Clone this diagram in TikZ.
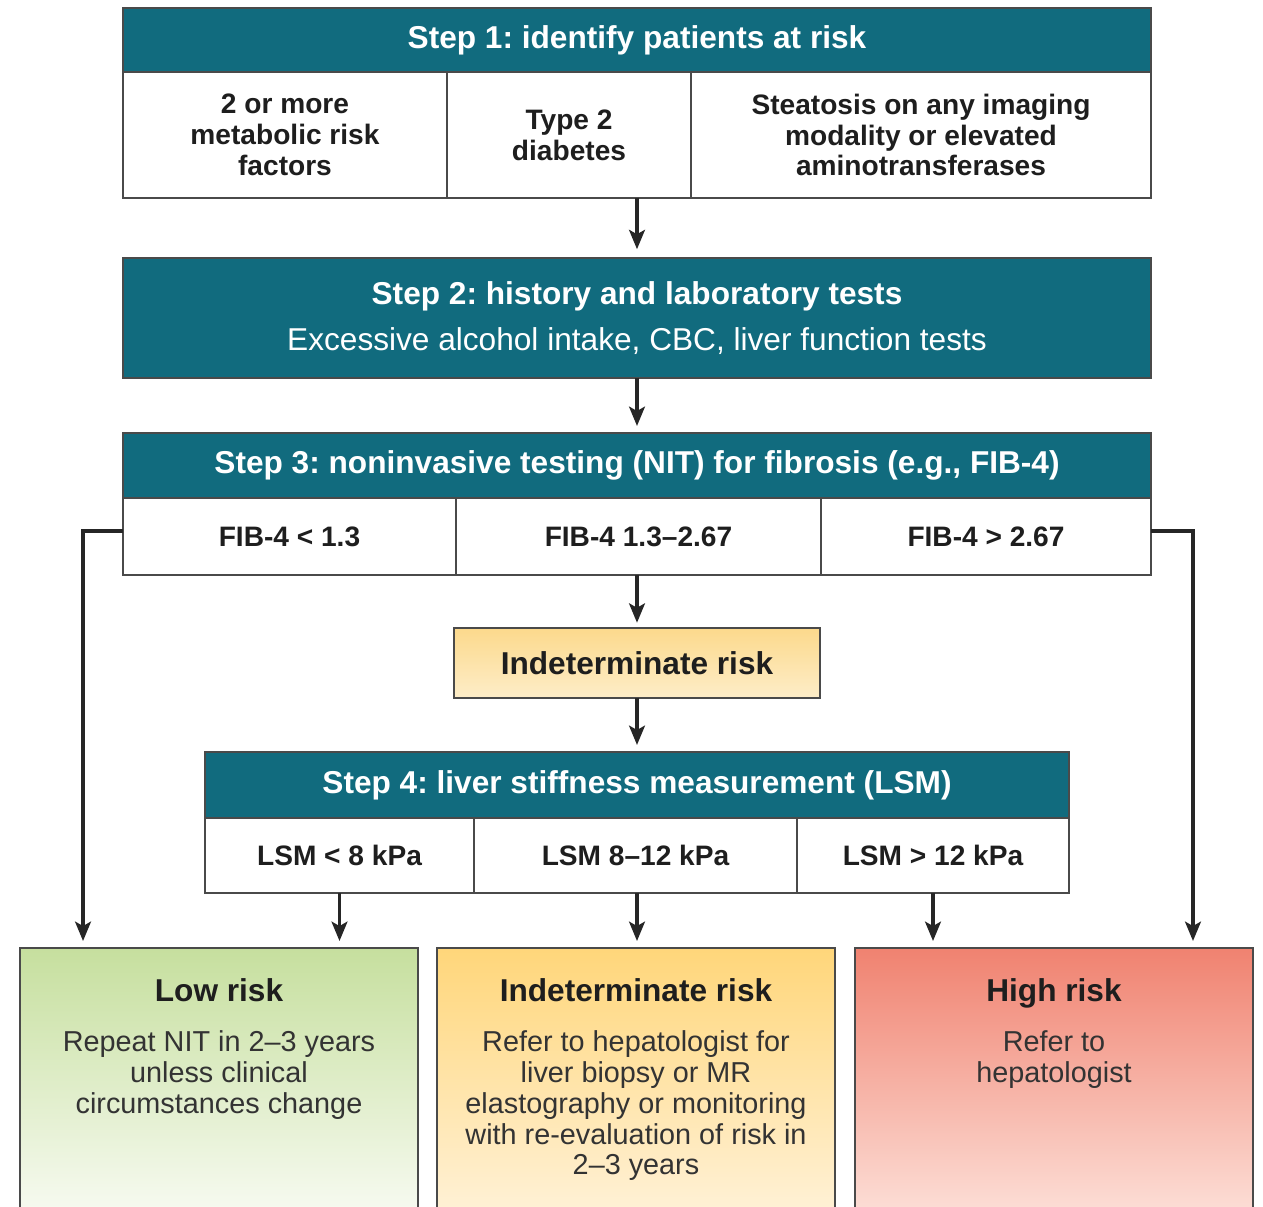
\documentclass[tikz,border=0pt]{standalone}
\usepackage{fontspec}
\setmainfont{Liberation Sans}
\usetikzlibrary{arrows.meta, positioning, calc}
\frenchspacing
\definecolor{stepteal}{HTML}{116B7E}
\definecolor{edgegray}{HTML}{4A4A4A}
\definecolor{darktext}{HTML}{1E1E1E}
\definecolor{bodytext}{HTML}{333333}
\definecolor{lowtop}{HTML}{C6DF9E}
\definecolor{lowbot}{HTML}{FAFCF6}
\definecolor{indtop}{HTML}{FFD67A}
\definecolor{indbot}{HTML}{FFF3DC}
\definecolor{hightop}{HTML}{F08270}
\definecolor{highbot}{HTML}{FDE4DD}
\definecolor{midtop}{HTML}{FCD98C}
\definecolor{midbot}{HTML}{FDEDC8}

\begin{document}
\begin{tikzpicture}[x=0.02cm, y=-0.02cm,
    head/.style={fill=stepteal, draw=edgegray, line width=1.1pt, text=white, font=\fontsize{18}{21}\selectfont\bfseries, inner sep=0pt, outer sep=0pt},
    cell/.style={fill=white, draw=edgegray, line width=1.1pt, text=darktext, font=\fontsize{16}{17.6}\selectfont\bfseries, align=center, inner sep=0pt, outer sep=0pt},
    outcome/.style={draw=edgegray, line width=1.1pt, inner sep=0pt, outer sep=0pt, minimum width=7.96cm, minimum height=5.64cm},
    ttl/.style={text=darktext, font=\fontsize{18}{21}\selectfont\bfseries, anchor=base},
    body/.style={text=bodytext, font=\fontsize{16.4}{17.6}\selectfont, align=center, inner sep=0pt, anchor=north},
    arr/.style={-{Stealth[length=11pt, width=9pt, inset=2.5pt]}, line width=2pt, black!85}
]
    \useasboundingbox (0,0) rectangle (1263,1206);

    \node[head, minimum width=20.56cm, minimum height=1.28cm] (s1) at (637,40) {Step 1: identify patients at risk};
    \node[cell, minimum width=6.48cm, minimum height=2.52cm] (r1) at (285,135) {2 or more\\metabolic risk\\factors};
    \node[cell, minimum width=4.88cm, minimum height=2.52cm] (r2) at (569,135) {Type 2\\diabetes};
    \node[cell, minimum width=9.2cm, minimum height=2.52cm] (r3) at (921,135) {Steatosis on any imaging\\modality or elevated\\aminotransferases};

    \node[head, minimum width=20.56cm, minimum height=2.4cm, align=center] (s2) at (637,318) {Step 2: history and laboratory tests\\[5pt]{\mdseries Excessive alcohol intake, CBC, liver function tests}};

    \node[head, minimum width=20.56cm, minimum height=1.3cm] (s3) at (637,465.5) {Step 3: noninvasive testing (NIT) for fibrosis (e.g., FIB-4)};
    \node[cell, minimum width=6.66cm, minimum height=1.54cm] (f1) at (289.5,536.5) {FIB-4 < 1.3};
    \node[cell, minimum width=7.3cm, minimum height=1.54cm] (f2) at (638.5,536.5) {FIB-4 1.3--2.67};
    \node[cell, minimum width=6.6cm, minimum height=1.54cm] (f3) at (986,536.5) {FIB-4 > 2.67};

    \node[cell, top color=midtop, bottom color=midbot, font=\fontsize{18}{21}\selectfont\bfseries, minimum width=7.32cm, minimum height=1.4cm] (mid) at (637,663) {Indeterminate risk};

    \node[head, minimum width=17.28cm, minimum height=1.32cm] (s4) at (637,785) {Step 4: liver stiffness measurement (LSM)};
    \node[cell, minimum width=5.38cm, minimum height=1.5cm] (l1) at (339.5,855.5) {LSM < 8 kPa};
    \node[cell, minimum width=6.46cm, minimum height=1.5cm] (l2) at (635.5,855.5) {LSM 8--12 kPa};
    \node[cell, minimum width=5.44cm, minimum height=1.5cm] (l3) at (933,855.5) {LSM > 12 kPa};

    \node[outcome, top color=lowtop, bottom color=lowbot] (low) at (219,1089) {};
    \node[outcome, top color=indtop, bottom color=indbot] (ind) at (636,1089) {};
    \node[outcome, top color=hightop, bottom color=highbot] (high) at (1054,1089) {};

    \node[ttl] (lowT) at (219,1001) {Low risk};
    \node[ttl] (indT) at (636,1001) {Indeterminate risk};
    \node[ttl] (highT) at (1054,1001) {High risk};
    \node[body] (lowB) at (219,1030) {Repeat NIT in 2--3 years\\unless clinical\\circumstances change};
    \node[body] (indB) at (636,1030) {Refer to hepatologist for\\liver biopsy or MR\\elastography or monitoring\\with re-evaluation of risk in\\2--3 years};
    \node[body] (highB) at (1054,1030) {Refer to\\hepatologist};

    \draw[arr] (s1.center |- r2.south) -- ([yshift=5pt]s2.north);
    \draw[arr] (s2.south) -- ([yshift=4pt]s3.north);
    \draw[arr] (mid.north |- f2.south) -- ([yshift=3pt]mid.north);
    \draw[arr] (mid.south) -- ([yshift=4pt]s4.north);
    \draw[arr] (f1.west |- 0,531) -| ([xshift=1.26cm, yshift=4pt]low.north west);
    \draw[arr] (f3.east |- 0,531) -| ([xshift=-1.2cm, yshift=4pt]high.north east);
    \draw[arr] (l1.south) -- ([yshift=4pt]l1.south |- low.north);
    \draw[arr] (s4.center |- l2.south) -- ([yshift=4pt]s4.center |- ind.north);
    \draw[arr] (l3.south) -- ([yshift=4pt]l3.south |- high.north);
\end{tikzpicture}
\end{document}
